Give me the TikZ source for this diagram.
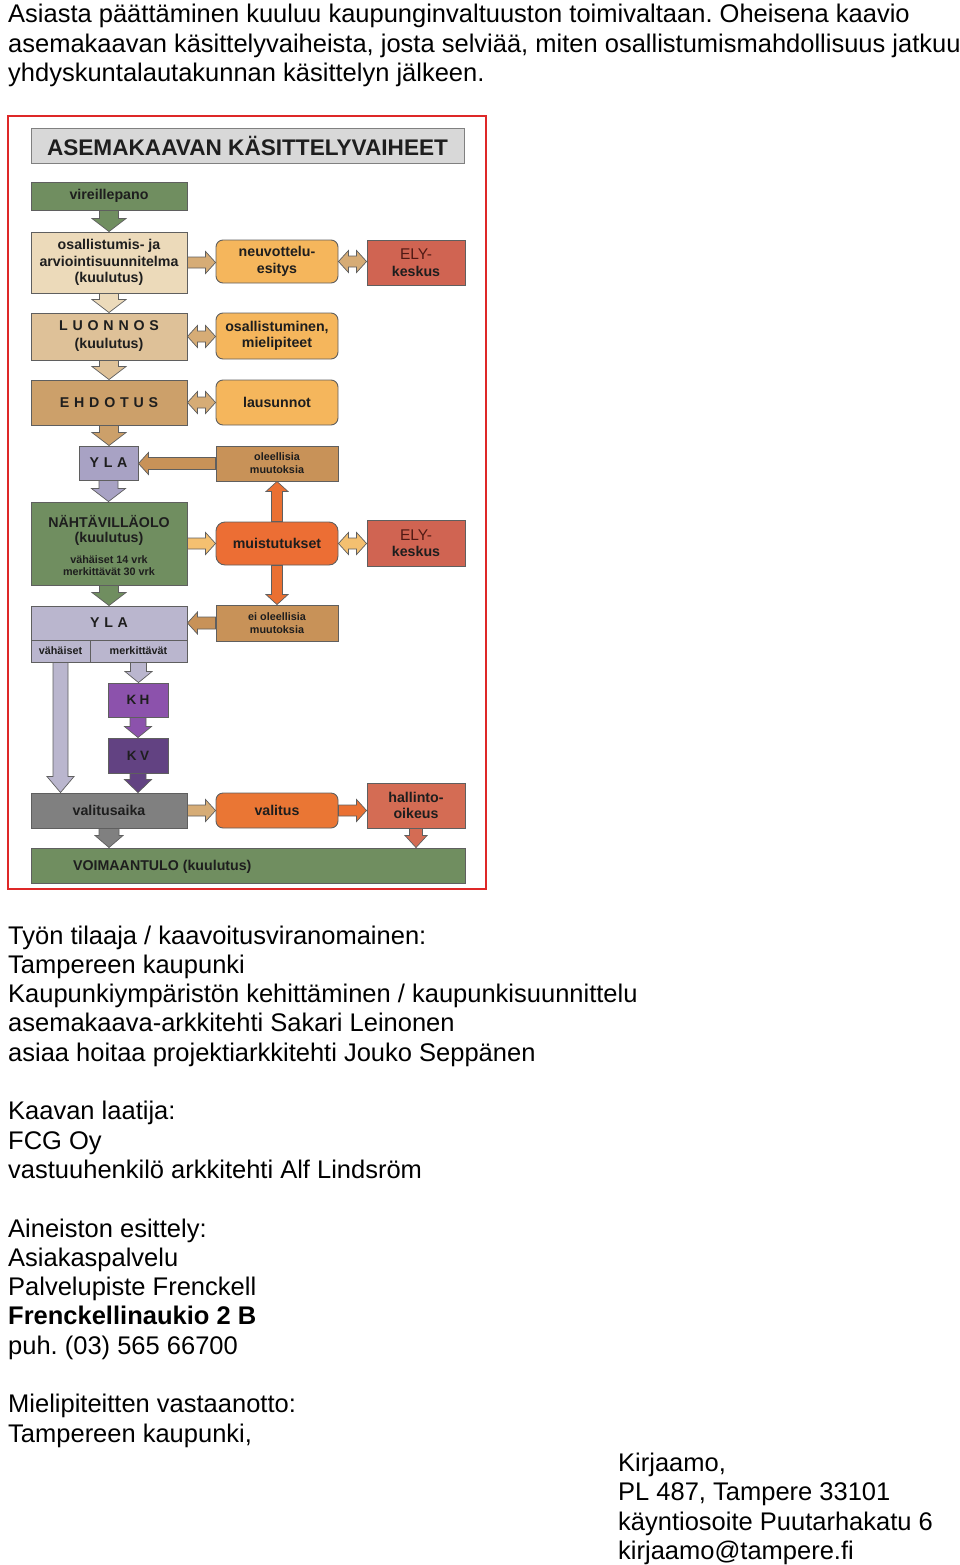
\documentclass[tikz,border=0pt]{standalone}
\usepackage{fontspec}
\setmainfont{Liberation Sans}
\usetikzlibrary{calc}
\frenchspacing
\definecolor{framered}{RGB}{222,40,40}
\definecolor{bordc}{RGB}{95,95,95}
\definecolor{txtc}{RGB}{30,30,30}
\definecolor{elytxt}{RGB}{80,25,20}
\definecolor{ctitle}{RGB}{216,216,216}
\definecolor{cgreen}{RGB}{112,142,96}
\definecolor{cbeige}{RGB}{236,218,186}
\definecolor{ctan1}{RGB}{222,193,152}
\definecolor{ctan2}{RGB}{204,160,106}
\definecolor{corange}{RGB}{245,182,92}
\definecolor{cely}{RGB}{208,100,82}
\definecolor{cyla}{RGB}{168,162,196}
\definecolor{cyla2}{RGB}{186,182,206}
\definecolor{cbrown}{RGB}{200,146,88}
\definecolor{cmuis}{RGB}{236,110,52}
\definecolor{ckh}{RGB}{140,82,172}
\definecolor{ckv}{RGB}{98,66,130}
\definecolor{cgray}{RGB}{128,128,128}
\definecolor{cval}{RGB}{234,118,52}
\definecolor{chal}{RGB}{212,108,84}
\definecolor{atan}{RGB}{214,172,118}
\definecolor{alight}{RGB}{244,192,112}
\definecolor{aorange}{RGB}{234,112,50}
\newcommand\lsp{\kern4.8pt}
\newcommand\lspk{\kern3.5pt}
\newcommand\elyhead{{\mdseries\color{elytxt}\fontsize{15.5}{17}\selectfont ELY-}}
\newcommand\DownArr[6]{\path[arrw, fill=#3] let \p1=(#1), \p2=(#2) in
 (\x1-#4pt,\y1) -- (\x1+#4pt,\y1) -- (\x1+#4pt,\y2+#6pt) -- (\x1+#5pt,\y2+#6pt) -- (\x1,\y2) -- (\x1-#5pt,\y2+#6pt) -- (\x1-#4pt,\y2+#6pt) -- cycle;}
\newcommand\UpArr[6]{\path[arrw, fill=#3] let \p1=(#1), \p2=(#2) in
 (\x1-#4pt,\y1) -- (\x1+#4pt,\y1) -- (\x1+#4pt,\y2-#6pt) -- (\x1+#5pt,\y2-#6pt) -- (\x1,\y2) -- (\x1-#5pt,\y2-#6pt) -- (\x1-#4pt,\y2-#6pt) -- cycle;}
\newcommand\RightArr[6]{\path[arrw, fill=#3] let \p1=(#1), \p2=(#2) in
 (\x1,\y1+#4pt) -- (\x2-#6pt,\y1+#4pt) -- (\x2-#6pt,\y1+#5pt) -- (\x2,\y1) -- (\x2-#6pt,\y1-#5pt) -- (\x2-#6pt,\y1-#4pt) -- (\x1,\y1-#4pt) -- cycle;}
\newcommand\LeftArr[6]{\path[arrw, fill=#3] let \p1=(#1), \p2=(#2) in
 (\x1,\y1+#4pt) -- (\x2+#6pt,\y1+#4pt) -- (\x2+#6pt,\y1+#5pt) -- (\x2,\y1) -- (\x2+#6pt,\y1-#5pt) -- (\x2+#6pt,\y1-#4pt) -- (\x1,\y1-#4pt) -- cycle;}
\newcommand\DblArr[6]{\path[arrw, fill=#3] let \p1=(#1), \p2=(#2) in
 (\x1,\y1) -- (\x1+#6pt,\y1+#5pt) -- (\x1+#6pt,\y1+#4pt) -- (\x2-#6pt,\y1+#4pt) -- (\x2-#6pt,\y1+#5pt) -- (\x2,\y1) -- (\x2-#6pt,\y1-#5pt) -- (\x2-#6pt,\y1-#4pt) -- (\x1+#6pt,\y1-#4pt) -- (\x1+#6pt,\y1-#5pt) -- cycle;}
\begin{document}
\begin{tikzpicture}[x=1pt,y=-1pt,
  body/.style={anchor=base west, inner sep=0pt, font=\fontsize{25.5}{29.3}\selectfont},
  box/.style={draw=bordc, line width=0.9pt, inner sep=1pt, align=center, text=txtc,
    font=\bfseries\fontsize{14.2}{16.5}\selectfont},
  rbox/.style={box, rounded corners=7pt},
  sbox/.style={box, font=\bfseries\fontsize{10.8}{13}\selectfont},
  lbl/.style={inner sep=0pt, text=txtc, font=\bfseries\fontsize{14.2}{16.5}\selectfont},
  slbl/.style={inner sep=0pt, text=txtc, font=\bfseries\fontsize{10.8}{13}\selectfont},
  arrw/.style={draw=bordc, line width=0.7pt, line join=miter}]
\useasboundingbox (0,0) rectangle (960,1565);

% ---------- introductory text ----------
\node[body] (p1) at (8,23) {Asiasta päättäminen kuuluu kaupunginvaltuuston toimivaltaan. Oheisena kaavio};
\node[body] (p2) at (8,52.3) {asemakaavan käsittelyvaiheista, josta selviää, miten osallistumismahdollisuus jatkuu};
\node[body] (p3) at (8,81.6) {yhdyskuntalautakunnan käsittelyn jälkeen.};

% ---------- diagram ----------
\draw[draw=framered, line width=2pt] (8,116) rectangle (486,889);

\node[box, fill=ctitle, draw=gray, minimum width=433pt, minimum height=35pt,
  font=\bfseries\fontsize{22.6}{24}\selectfont] (title) at (247.5,145.5) {ASEMAKAAVAN KÄSITTELYVAIHEET};

\node[box, fill=cgreen, minimum width=156pt, minimum height=28pt] (vir) at (109,196) {vireillepano};
\node[box, fill=cbeige, minimum width=156pt, minimum height=61pt] (oas) at (109,262.5) {osallistumis- ja\\arviointisuunnitelma\\(kuulutus)};
\node[rbox, fill=corange, minimum width=122pt, minimum height=43pt] (neu) at (277,261.5) {neuvottelu-\\esitys};
\node[box, fill=cely, minimum width=98pt, minimum height=45pt] (ely1) at (416,262.5) {\elyhead\\keskus};

\node[box, fill=ctan1, minimum width=156pt, minimum height=47pt, font=\bfseries\fontsize{14.2}{18}\selectfont] (luo) at (109,336.5) {L\lsp U\lsp O\lsp N\lsp N\lsp O\lsp S\\(kuulutus)};
\node[rbox, fill=corange, minimum width=122pt, minimum height=46pt] (osa) at (277,336) {osallistuminen,\\mielipiteet};

\node[box, fill=ctan2, minimum width=156pt, minimum height=45pt] (ehd) at (109,402.5) {E\lsp H\lsp D\lsp O\lsp T\lsp U\lsp S};
\node[rbox, fill=corange, minimum width=122pt, minimum height=45pt] (lau) at (277,402.5) {lausunnot};

\node[box, fill=cyla, minimum width=59pt, minimum height=34pt] (yla1) at (108.5,463) {Y\lsp L\lsp A};
\node[sbox, fill=cbrown, minimum width=122pt, minimum height=35pt] (ole) at (277,463.5) {oleellisia\\muutoksia};

\node[box, fill=cgreen, minimum width=156pt, minimum height=83pt] (nah) at (109,543.5) {};
\node[lbl] (nah1) at (109,522) {NÄHTÄVILLÄOLO};
\node[lbl] (nah2) at (109,539) {(kuulutus)};
\node[slbl] (nah3) at (109,559.5) {vähäiset 14 vrk};
\node[slbl] (nah4) at (109,571.5) {merkittävät 30 vrk};
\node[rbox, rounded corners=9pt, fill=cmuis, minimum width=122pt, minimum height=43pt] (mui) at (277,543.5) {muistutukset};
\node[box, fill=cely, minimum width=98pt, minimum height=46pt] (ely2) at (416,543) {\elyhead\\keskus};

\node[sbox, fill=cbrown, minimum width=122pt, minimum height=36pt] (eio) at (277,623) {ei oleellisia\\muutoksia};
\node[box, fill=cyla2, minimum width=156pt, minimum height=34pt] (yla2) at (109,623) {Y\lsp L\lsp A};
\node[sbox, fill=cyla2, minimum width=59pt, minimum height=22pt] (vah) at (60.5,651) {vähäiset};
\node[sbox, fill=cyla2, minimum width=97pt, minimum height=22pt] (mer) at (138.5,651) {merkittävät};

\node[box, fill=ckh, minimum width=60pt, minimum height=34pt, font=\bfseries\fontsize{13.5}{15}\selectfont] (kh) at (138,700) {K\lspk H};
\node[box, fill=ckv, minimum width=60pt, minimum height=35pt, font=\bfseries\fontsize{13.5}{15}\selectfont] (kv) at (138,755.5) {K\lspk V};

\node[box, fill=cgray, minimum width=156pt, minimum height=35pt] (val) at (109,810.5) {valitusaika};
\node[rbox, fill=cval, minimum width=122pt, minimum height=35pt] (vl) at (277,810.5) {valitus};
\node[box, fill=chal, minimum width=98pt, minimum height=45pt] (hal) at (416,805.5) {hallinto-\\oikeus};

\node[box, fill=cgreen, minimum width=434pt, minimum height=35pt] (voi) at (248,865.5) {};
\node[lbl, anchor=west] (voiT) at (73,866.5) {VOIMAANTULO (kuulutus)};

% ---------- arrows ----------
\DownArr{vir.south}{oas.north}{cgreen}{9.5}{17}{13}
\DownArr{oas.south}{luo.north}{cbeige}{9.5}{17}{13}
\DownArr{luo.south}{ehd.north}{ctan1}{9.5}{17}{13}
\DownArr{ehd.south}{yla1.north}{ctan2}{9.5}{17}{13}
\DownArr{yla1.south}{nah.north}{cyla}{9.5}{17}{13}
\DownArr{nah.south}{yla2.north}{cgreen}{9.5}{17}{13}
\DownArr{vah.south}{val.north}{cyla2}{7.5}{13.5}{16}
\DownArr{mer.south}{kh.north}{cyla2}{8}{13.5}{11}
\DownArr{kh.south}{kv.north}{ckh}{8}{13.5}{11}
\DownArr{kv.south}{val.north}{ckv}{8}{13.5}{13}
\DownArr{val.south}{voi.north}{cgray}{10}{14}{12}
\DownArr{hal.south}{voi.north}{chal}{6.5}{11}{12}
\DownArr{mui.south}{eio.north}{aorange}{5.5}{11}{10}
\UpArr{mui.north}{ole.south}{aorange}{5.5}{11}{10}

\RightArr{oas.east}{neu.west}{atan}{5.5}{11}{10}
\RightArr{nah.east}{mui.west}{alight}{5.5}{11}{10}
\RightArr{val.east}{vl.west}{atan}{5.5}{11}{10}
\RightArr{vl.east}{hal.west}{aorange}{5.5}{11}{10}
\LeftArr{ole.west}{yla1.east}{cbrown}{6}{11}{10}
\LeftArr{eio.west}{yla2.east}{cbrown}{6}{11}{10}
\DblArr{neu.east}{ely1.west}{atan}{5.5}{11}{10}
\DblArr{luo.east}{osa.west}{atan}{5.5}{11}{10}
\DblArr{ehd.east}{lau.west}{atan}{5.5}{11}{10}
\DblArr{mui.east}{ely2.west}{alight}{5.5}{11}{10}

% ---------- contact text ----------
\node[body] (b1) at (8,944) {Työn tilaaja / kaavoitusviranomainen:};
\node[body] (b2) at (8,973.3) {Tampereen kaupunki};
\node[body] (b3) at (8,1002.6) {Kaupunkiympäristön kehittäminen / kaupunkisuunnittelu};
\node[body] (b4) at (8,1031.9) {asemakaava-arkkitehti Sakari Leinonen};
\node[body] (b5) at (8,1061.2) {asiaa hoitaa projektiarkkitehti Jouko Seppänen};
\node[body] (b6) at (8,1119.8) {Kaavan laatija:};
\node[body] (b7) at (8,1149.1) {FCG Oy};
\node[body] (b8) at (8,1178.4) {vastuuhenkilö arkkitehti Alf Lindsröm};
\node[body] (b9) at (8,1237) {Aineiston esittely:};
\node[body] (b10) at (8,1266.3) {Asiakaspalvelu};
\node[body] (b11) at (8,1295.6) {Palvelupiste Frenckell};
\node[body, font=\bfseries\fontsize{25.5}{29.3}\selectfont] (b12) at (8,1324.9) {Frenckellinaukio 2 B};
\node[body] (b13) at (8,1354.2) {puh. (03) 565 66700};
\node[body] (b14) at (8,1412.8) {Mielipiteitten vastaanotto:};
\node[body] (b15) at (8,1442.1) {Tampereen kaupunki,};
\node[body] (b16) at (618,1471.4) {Kirjaamo,};
\node[body] (b17) at (618,1500.7) {PL 487, Tampere 33101};
\node[body] (b18) at (618,1530) {käyntiosoite Puutarhakatu 6};
\node[body] (b19) at (618,1559.3) {\underline{kirjaamo@tampere.fi}};
\end{tikzpicture}
\end{document}
